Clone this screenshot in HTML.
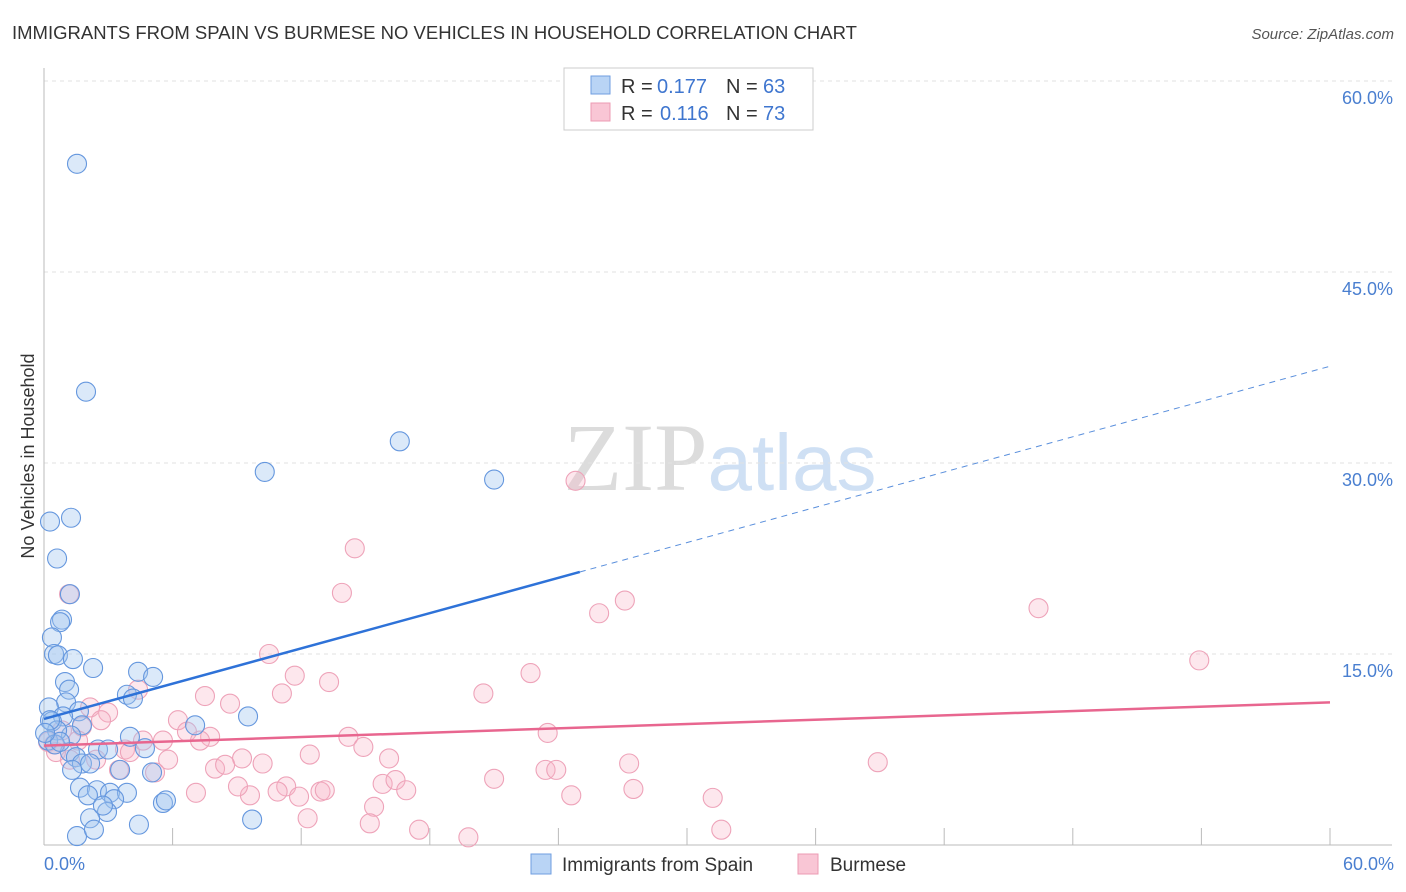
<!DOCTYPE html>
<html><head><meta charset="utf-8"><style>
body{margin:0;background:#fff;font-family:"Liberation Sans",sans-serif;}
svg{display:block}
</style></head><body>
<svg id="chart" width="1406" height="892" xmlns="http://www.w3.org/2000/svg">
<text x="12" y="39" font-size="18.5" fill="#333">IMMIGRANTS FROM SPAIN VS BURMESE NO VEHICLES IN HOUSEHOLD CORRELATION CHART</text>
<text x="1394" y="39" font-size="15" fill="#555" text-anchor="end" font-style="italic">Source: ZipAtlas.com</text>
<text x="720" y="490" font-size="96" text-anchor="middle" font-family="Liberation Serif,serif"><tspan fill="#dcdcdc">ZIP</tspan><tspan fill="#cfe0f4" font-family="Liberation Sans,sans-serif" font-size="80">atlas</tspan></text>
<g id="grid"></g>
<g id="axes"></g>
<g id="pts"></g>
<g id="trends"></g>
<text transform="translate(34,456) rotate(-90)" font-size="18" fill="#333" text-anchor="middle">No Vehicles in Household</text>
<text x="44" y="870" font-size="18" fill="#4a7fd0">0.0%</text>
<text x="1394" y="870" font-size="18" fill="#4a7fd0" text-anchor="end">60.0%</text>
<g>
<rect x="564" y="68" width="249" height="62" fill="#fff" stroke="#ccc"/>
<rect x="591" y="76" width="19" height="18" fill="#b9d4f5" stroke="#6f9ee0"/>
<rect x="591" y="103" width="19" height="18" fill="#f9c6d5" stroke="#ec9bb3"/>
<text x="621" y="93" font-size="20" fill="#333">R =</text>
<text x="657" y="93" font-size="20" fill="#3f76cf">0.177</text>
<text x="726" y="93" font-size="20" fill="#333">N =</text>
<text x="763" y="93" font-size="20" fill="#3f76cf">63</text>
<text x="621" y="120" font-size="20" fill="#333">R =</text>
<text x="660" y="120" font-size="20" fill="#3f76cf">0.116</text>
<text x="726" y="120" font-size="20" fill="#333">N =</text>
<text x="763" y="120" font-size="20" fill="#3f76cf">73</text>
</g>
<g>
<rect x="531" y="854" width="20" height="20" fill="#b9d4f5" stroke="#6f9ee0"/>
<text x="562" y="871" font-size="19" fill="#333">Immigrants from Spain</text>
<rect x="798" y="854" width="20" height="20" fill="#f9c6d5" stroke="#ec9bb3"/>
<text x="830" y="871" font-size="19" fill="#333">Burmese</text>
</g>
</svg>
<script>
const yTicks=[15,30,45,60];
const yTickLabels=["15.0%","30.0%","45.0%","60.0%"];
const xTicks=[6,12,18,24,30,36,42,48,54,60];
const blueX=[1.54,1.96,16.6,10.3,21.0,0.28,1.26,0.61,1.21,0.84,0.75,0.37,0.47,0.65,1.35,2.29,4.39,5.09,0.98,1.17,3.87,4.15,1.03,1.63,0.23,0.89,9.52,7.05,0.37,1.77,1.26,0.61,4.01,4.71,2.52,2.99,1.21,1.49,1.77,2.15,3.55,5.04,1.68,2.47,2.05,3.08,3.87,3.27,5.55,5.69,2.94,2.15,4.43,9.71,1.54,2.33,0.28,0.19,0.51,0.75,0.05,2.75,1.31];
const blueY=[53.5,35.6,31.7,29.3,28.7,25.4,25.7,22.5,19.7,17.7,17.5,16.3,15.0,14.9,14.6,13.9,13.6,13.2,12.8,12.2,11.8,11.5,11.2,10.5,10.8,10.1,10.1,9.4,9.7,9.4,8.6,9.0,8.5,7.6,7.5,7.5,7.3,6.9,6.4,6.4,5.9,5.7,4.5,4.3,3.9,4.1,4.1,3.6,3.3,3.5,2.6,2.1,1.6,2.0,0.7,1.2,9.8,8.2,7.9,8.1,8.8,3.1,5.9];
const pinkX=[24.8,14.5,1.17,13.9,27.1,25.9,46.4,53.9,10.5,11.7,22.7,13.3,4.39,7.51,20.5,11.1,8.68,2.15,2.99,2.66,6.25,6.67,5.55,7.75,23.5,14.2,1.77,0.84,0.19,0.47,3.78,4.01,14.9,16.1,12.4,9.24,10.2,5.79,3.5,5.18,7.98,8.45,27.3,38.9,21.0,23.4,23.9,15.8,16.4,16.9,11.3,12.9,13.1,10.9,11.9,9.61,9.05,7.09,27.5,24.6,31.2,15.4,12.3,15.2,17.5,19.8,31.6,1.59,1.21,0.56,2.43,4.62,7.28];
const pinkY=[28.6,23.3,19.7,19.8,19.2,18.2,18.6,14.5,15.0,13.3,13.5,12.8,12.2,11.7,11.9,11.9,11.1,10.8,10.4,9.8,9.8,8.9,8.2,8.5,8.8,8.5,9.3,9.0,8.1,7.9,7.5,7.3,7.7,6.8,7.1,6.8,6.4,6.7,5.9,5.7,6.0,6.3,6.4,6.5,5.2,5.9,5.9,4.8,5.1,4.3,4.6,4.2,4.3,4.2,3.8,3.9,4.6,4.1,4.4,3.9,3.7,3.0,2.1,1.7,1.2,0.6,1.2,8.2,6.7,7.3,6.7,8.2,8.2];
const blueTrend=[9.9,37.6];
const blueSolidEnd=25;
const pinkTrend=[7.8,11.2];
const NS="http://www.w3.org/2000/svg";
const X=v=>44+v*(1286/60), Y=v=>845-v*(764/60);
function mk(t,a,p){const e=document.createElementNS(NS,t);for(const k in a)e.setAttribute(k,a[k]);p.appendChild(e);return e;}
const grid=document.getElementById('grid'),axes=document.getElementById('axes'),pts=document.getElementById('pts'),tr=document.getElementById('trends');
yTicks.forEach((v,i)=>{
 const l=mk('line',{x1:44,x2:1392,y1:Y(v),y2:Y(v),stroke:'#e2e2e2','stroke-width':1,'stroke-dasharray':'4,4'},grid);
 
 
 const t=mk('text',{x:1393,y:Y(v)+23,'font-size':18,fill:'#4a7fd0','text-anchor':'end'},grid);
 t.textContent=yTickLabels[i];
 
 
});
const ya=mk('line',{x1:44,x2:44,y1:68,y2:845,stroke:'#bbb'},axes);


const xa=mk('line',{x1:44,x2:1392,y1:845,y2:845,stroke:'#bbb'},axes);


xTicks.forEach(v=>{const l=mk('line',{x1:X(v),x2:X(v),y1:828,y2:845,stroke:'#bbb'},axes);
 
 });
pinkX.forEach((x,i)=>{const c=mk('circle',{cx:X(x),cy:Y(pinkY[i]),r:9.5,fill:'rgba(248,180,200,0.32)',stroke:'#eea3b9','stroke-width':1.1},pts);
 
 });
blueX.forEach((x,i)=>{const c=mk('circle',{cx:X(x),cy:Y(blueY[i]),r:9.5,fill:'rgba(160,198,240,0.38)',stroke:'#6597de','stroke-width':1.1},pts);
 
 });
const bv=x=>blueTrend[0]+(blueTrend[1]-blueTrend[0])*x/60;
const b1=mk('line',{x1:X(0),y1:Y(bv(0)),x2:X(blueSolidEnd),y2:Y(bv(blueSolidEnd)),stroke:'#2e72d8','stroke-width':2.5},tr);


const b2=mk('line',{x1:X(blueSolidEnd),y1:Y(bv(blueSolidEnd)),x2:X(60),y2:Y(bv(60)),stroke:'#5a8fdc','stroke-width':1,'stroke-dasharray':'6,5'},tr);


const p1=mk('line',{x1:X(0),y1:Y(pinkTrend[0]),x2:X(60),y2:Y(pinkTrend[1]),stroke:'#e8668f','stroke-width':2.5},tr);


</script>
</body></html>
